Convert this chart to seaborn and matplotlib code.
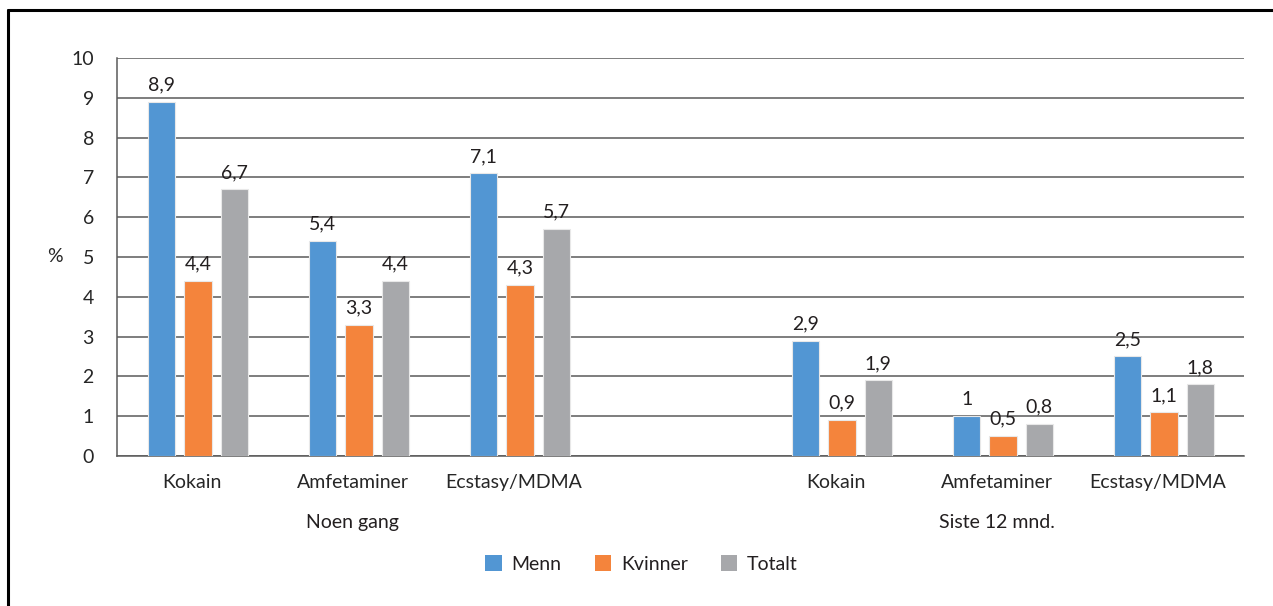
import matplotlib
matplotlib.use("Agg")
import matplotlib.pyplot as plt
import matplotlib.transforms as mtransforms
import pandas as pd
import seaborn as sns
from matplotlib.lines import Line2D

# data (percent)
drugs = ["Kokain", "Amfetaminer", "Ecstasy/MDMA"]
periods = ["Noen gang", "Siste 12 mnd."]
groups = ["Menn", "Kvinner", "Totalt"]
menn = [8.9, 5.4, 7.1, 2.9, 1.0, 2.5]
kvinner = [4.4, 3.3, 4.3, 0.9, 0.5, 1.1]
totalt = [6.7, 4.4, 5.7, 1.9, 0.8, 1.8]
yticks = list(range(0, 11))

COLORS = ["#5296d3", "#f4843c", "#a7a8ab"]
FS = 14


def _build_frame() -> tuple[pd.DataFrame, list[str]]:
    keys = [f"{p}|{d}" for p in periods for d in drugs]
    rows = []
    for name, vals in zip(groups, [menn, kvinner, totalt]):
        for k, v in zip(keys, vals):
            rows.append({"slot": k, "gruppe": name, "verdi": v})
    # empty slot between the two periods
    order = keys[:3] + ["gap"] + keys[3:]
    return pd.DataFrame(rows), order


def _fmt(v: float) -> str:
    return f"{v:g}".replace(".", ",")


def main():
    sns.set_style("white")
    plt.rcParams["font.family"] = ["Lato", "DejaVu Sans"]
    plt.rcParams["text.color"] = "#231f20"

    df, order = _build_frame()

    fig = plt.figure(figsize=(12.73, 6.06), dpi=100)
    ax = fig.add_axes([0.0923, 0.2475, 0.8853, 0.657])

    sns.barplot(
        data=df,
        x="slot",
        y="verdi",
        hue="gruppe",
        hue_order=groups,
        order=order,
        palette=COLORS,
        width=0.677,
        gap=0.25,
        edgecolor="#e8e8e8",
        linewidth=0.8,
        saturation=1,
        legend=True,
        ax=ax,
        zorder=3,
    )

    for c in ax.containers:
        ax.bar_label(c, labels=[_fmt(v) for v in c.datavalues], padding=6, fontsize=FS, color="#231f20")

    ax.set_ylim(0, 10)
    ax.set_xlim(-0.5, len(order) - 0.5)
    ax.set_yticks(yticks)
    ax.set_yticklabels([str(t) for t in yticks], fontsize=FS)
    ax.yaxis.grid(True, color="#5a5a5a", linewidth=1.1, zorder=0)
    ax.set_axisbelow(True)

    ax.set_xticks(range(len(order)))
    ax.set_xticklabels([k.split("|")[1] if "|" in k else "" for k in order], fontsize=FS)
    ax.tick_params(axis="x", length=0, pad=13)
    ax.tick_params(axis="y", length=4, width=1, color="#5a5a5a", direction="out", pad=13)
    # category names sit a little left of the bar groups in the original
    shift = mtransforms.ScaledTranslation(-6 / 100, 0, fig.dpi_scale_trans)
    for lbl in ax.get_xticklabels():
        lbl.set_transform(lbl.get_transform() + shift)

    for side in ["top", "right"]:
        ax.spines[side].set_visible(False)
    for side in ["left", "bottom"]:
        ax.spines[side].set_color("#5a5a5a")
        ax.spines[side].set_linewidth(1.1)

    ax.set_xlabel("")
    ax.set_ylabel("%", rotation=0, fontsize=FS, labelpad=12, va="center")

    # period labels below the drug names
    for p in periods:
        ax.text(order.index(f"{p}|{drugs[1]}") - 0.04, -1.68, p, ha="center", va="center", fontsize=FS)

    handles, labels = ax.get_legend_handles_labels()
    ax.get_legend().remove()
    fig.legend(
        handles,
        labels,
        loc="center",
        bbox_to_anchor=(0.504, 0.069),
        ncol=3,
        frameon=False,
        fontsize=FS,
        handlelength=0.85,
        handleheight=0.85,
        handletextpad=0.5,
        columnspacing=1.7,
    )
    for h in fig.legends[0].legend_handles:
        h.set_edgecolor("none")

    # frame lines of the original figure (left and top only visible)
    fig.add_artist(Line2D([8 / 1273, 8 / 1273], [0, 1 - 10 / 606], color="black", linewidth=2.2, transform=fig.transFigure))
    fig.add_artist(Line2D([8 / 1273, 1], [1 - 10 / 606, 1 - 10 / 606], color="black", linewidth=2.2, transform=fig.transFigure))

    fig.savefig("out.png", dpi=100)
    plt.close(fig)


if __name__ == "__main__":
    main()
